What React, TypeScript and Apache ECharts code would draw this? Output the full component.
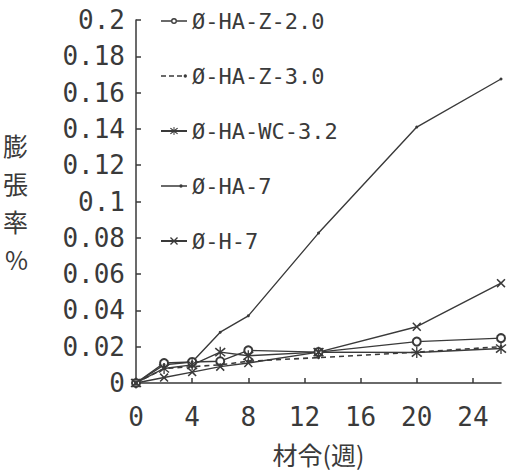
import React, { useEffect, useRef } from "react";
import * as echarts from "echarts";

const weeks = [0, 2, 4, 6, 8, 13, 20, 26];
const seriesNames = ["Ø-HA-Z-2.0", "Ø-HA-Z-3.0", "Ø-HA-WC-3.2", "Ø-HA-7", "Ø-H-7"];
const haZ20 = [0, 0.011, 0.0116, 0.012, 0.018, 0.017, 0.0228, 0.0247];
const haZ30 = [0, 0.008, 0.009, 0.010, 0.012, 0.014, 0.017, 0.020];
const haWC32 = [0, 0.008, 0.010, 0.017, 0.015, 0.017, 0.0168, 0.019];
const ha7 = [0, 0.010, 0.0116, 0.028, 0.037, 0.0826, 0.141, 0.1675];
const h7 = [0, 0.003, 0.006, 0.009, 0.011, 0.017, 0.031, 0.055];
const xTicks = [0, 4, 8, 12, 16, 20, 24];

const INK = "#3a3a3a";
const MONO = "'DejaVu Sans Mono', monospace";
const CJK = "'Noto Sans CJK JP', sans-serif";

const xMark = "path://M0,1.2 L1.2,0 L5,3.8 L8.8,0 L10,1.2 L6.2,5 L10,8.8 L8.8,10 L5,6.2 L1.2,10 L0,8.8 L3.8,5 Z";
const star = "path://M0,1.8 L1,0.8 L5,4.2 L9,0.8 L10,1.8 L5.9,5 L10,8.2 L9,9.2 L5,5.8 L1,9.2 L0,8.2 L4.1,5 Z M4.4,0 L5.6,0 L5.6,10 L4.4,10 Z";

// legend icons (line + marker) drawn as filled paths in a 26x10 box
const iconRing = "path://M0,4.3 L10,4.3 L10,5.7 L0,5.7 Z M16,4.3 L26,4.3 L26,5.7 L16,5.7 Z M10,5 A3,3 0 1,1 16,5 A3,3 0 1,1 10,5 Z M11.4,5 A1.6,1.6 0 1,0 14.6,5 A1.6,1.6 0 1,0 11.4,5 Z";
const iconDash = "path://M0,4.3 L5,4.3 L5,5.7 L0,5.7 Z M8,4.3 L13,4.3 L13,5.7 L8,5.7 Z M16,4.3 L21,4.3 L21,5.7 L16,5.7 Z M22.6,5 A1.7,1.7 0 1,1 26,5 A1.7,1.7 0 1,1 22.6,5 Z";
const iconDot = "path://M0,4.3 L26,4.3 L26,5.7 L0,5.7 Z M18.3,5 A1.7,1.7 0 1,1 21.7,5 A1.7,1.7 0 1,1 18.3,5 Z";

function pairs(vals: number[]) {
  return weeks.map((w, i) => [w, vals[i]]);
}

export default function App() {
  const ref = useRef<HTMLDivElement>(null);
  useEffect(() => {
    if (!ref.current) return;
    const chart = echarts.init(ref.current, undefined, { renderer: "svg" });
    const base = {
      type: "line",
      lineStyle: { color: INK, width: 1.4 },
      itemStyle: { color: INK, borderColor: INK, borderWidth: 1.2 },
      emphasis: { disabled: true },
    };
    chart.setOption({
      animation: false,
      backgroundColor: "#ffffff",
      grid: { left: 135, right: 9, top: 20, bottom: 89, containLabel: false },
      legend: {
        orient: "vertical",
        left: 155,
        top: 5,
        itemGap: 33,
        itemWidth: 26,
        itemHeight: 10,
        symbolKeepAspect: true,
        textStyle: { fontFamily: MONO, fontSize: 22, color: INK },
        data: [
          { name: seriesNames[0], icon: iconRing, itemStyle: { color: INK, borderWidth: 0 } },
          { name: seriesNames[1], icon: iconDash, itemStyle: { color: INK, borderWidth: 0 } },
          { name: seriesNames[2] },
          { name: seriesNames[3], icon: iconDot, itemStyle: { color: INK, borderWidth: 0 } },
          { name: seriesNames[4] },
        ],
      },
      xAxis: {
        type: "value",
        min: 0,
        max: 26,
        interval: 4,
        name: "材令(週)",
        nameLocation: "middle",
        nameGap: 58,
        nameTextStyle: { fontFamily: CJK, fontSize: 25, color: INK },
        axisLine: { lineStyle: { color: INK, width: 1.5 } },
        axisTick: { inside: true, length: 5, lineStyle: { color: INK, width: 1.5 } },
        axisLabel: {
          fontFamily: MONO,
          fontSize: 26,
          color: INK,
          margin: 21,
          showMaxLabel: false,
          formatter: (v: number) => (xTicks.includes(v) ? String(v) : ""),
        },
        splitLine: { show: false },
      },
      yAxis: {
        type: "value",
        min: 0,
        max: 0.2,
        interval: 0.02,
        name: "膨\n張\n率\n%",
        nameLocation: "middle",
        nameRotate: 0,
        nameGap: 108,
        nameTextStyle: { fontFamily: CJK, fontSize: 25, lineHeight: 38, color: INK },
        axisLine: { show: true, lineStyle: { color: INK, width: 1.5 } },
        axisTick: { show: true, inside: true, length: 5, lineStyle: { color: INK, width: 1.5 } },
        axisLabel: {
          fontFamily: MONO,
          fontSize: 26,
          color: INK,
          margin: 11,
          formatter: (v: number) => String(parseFloat(v.toFixed(2))),
        },
        splitLine: { show: false },
      },
      series: [
        { ...base, name: seriesNames[0], data: pairs(haZ20), symbol: "emptyCircle", symbolSize: 8,
          itemStyle: { color: INK, borderColor: INK, borderWidth: 1.3 } },
        { ...base, name: seriesNames[1], data: pairs(haZ30), symbol: "circle", symbolSize: 2,
          lineStyle: { color: INK, width: 1.6, type: [5, 4] } },
        { ...base, name: seriesNames[2], data: pairs(haWC32), symbol: star, symbolSize: 11,
          itemStyle: { color: INK } },
        { ...base, name: seriesNames[3], data: pairs(ha7), symbol: "circle", symbolSize: 3,
          itemStyle: { color: INK } },
        { ...base, name: seriesNames[4], data: pairs(h7), symbol: xMark, symbolSize: 9,
          itemStyle: { color: INK } },
      ],
    });
    return () => chart.dispose();
  }, []);
  return <div ref={ref} style={{ width: 510, height: 472, position: "absolute", left: 0, top: 0 }} />;
}
